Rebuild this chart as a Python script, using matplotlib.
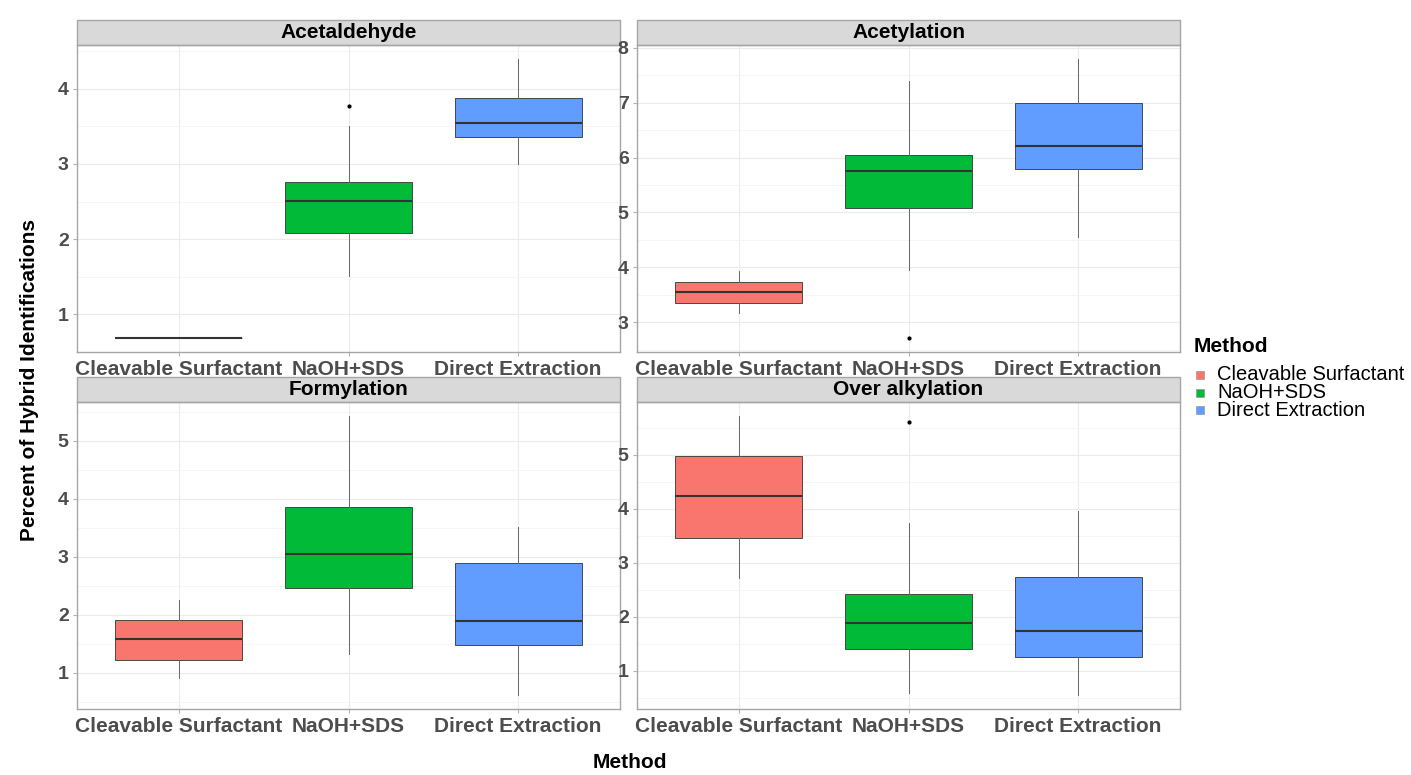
import matplotlib
matplotlib.use("Agg")
import matplotlib.pyplot as plt
from matplotlib.patches import Rectangle
from matplotlib.ticker import MultipleLocator

plt.rcParams['font.family'] = ['Liberation Sans', 'DejaVu Sans']

# data (boxplot stats per panel, one value per method)
methods = ["Cleavable Surfactant", "NaOH+SDS", "Direct Extraction"]
colors = ["#F8766D", "#00BA38", "#619CFF"]
panels = ["Acetaldehyde", "Acetylation", "Formylation", "Over alkylation"]

whisker_low = [[0.68, 1.51, 3.00], [3.16, 3.95, 4.55], [0.91, 1.33, 0.62], [2.71, 0.58, 0.55]]
q1 = [[0.68, 2.08, 3.36], [3.35, 5.08, 5.79], [1.23, 2.46, 1.48], [3.46, 1.41, 1.26]]
median = [[0.68, 2.51, 3.55], [3.55, 5.76, 6.21], [1.58, 3.05, 1.89], [4.23, 1.88, 1.73]]
q3 = [[0.68, 2.76, 3.88], [3.73, 6.05, 7.00], [1.91, 3.86, 2.89], [4.98, 2.42, 2.74]]
whisker_high = [[0.68, 3.51, 4.40], [3.93, 7.40, 7.80], [2.26, 5.43, 3.52], [5.72, 3.73, 3.96]]
outliers = [[[], [3.77], []], [[], [2.71], []], [[], [], []], [[], [5.61], []]]

W, H = 1411, 775
fig = plt.figure(figsize=(W / 100, H / 100), dpi=100)

# panel corners in pixels (left, top, right, bottom)
boxes = [(77, 45, 620, 352), (637, 45, 1180, 352), (77, 402, 620, 709), (637, 402, 1180, 709)]
strip_h = 25

for i, name in enumerate(panels):
    l, t, r, b = boxes[i]
    ax = fig.add_axes([l / W, 1 - b / H, (r - l) / W, (b - t) / H])
    stats = []
    for j in range(3):
        stats.append(dict(med=median[i][j], q1=q1[i][j], q3=q3[i][j],
                          whislo=whisker_low[i][j], whishi=whisker_high[i][j],
                          fliers=outliers[i][j]))
    bp = ax.bxp(stats, positions=[1, 2, 3], widths=0.75, patch_artist=True,
                showcaps=False,
                boxprops=dict(edgecolor="#333333", linewidth=0.6),
                whiskerprops=dict(color="#666666", linewidth=0.7),
                medianprops=dict(color="#333333", linewidth=1.5),
                flierprops=dict(marker="o", markersize=2, markerfacecolor="black",
                                markeredgecolor="black"))
    for patch, c in zip(bp["boxes"], colors):
        patch.set_facecolor(c)

    lo = min(whisker_low[i] + [v for o in outliers[i] for v in o])
    hi = max(whisker_high[i] + [v for o in outliers[i] for v in o])
    pad = 0.05 * (hi - lo)
    ax.set_ylim(lo - pad, hi + pad)
    ax.set_xlim(0.4, 3.6)
    ax.yaxis.set_major_locator(MultipleLocator(1))
    ax.yaxis.set_minor_locator(MultipleLocator(0.5))
    ax.set_xticks([1, 2, 3], methods)

    ax.grid(which="major", color="#EBEBEB", linewidth=0.8)
    ax.grid(which="minor", axis="y", color="#F4F4F4", linewidth=0.6)
    ax.set_axisbelow(True)
    for s in ax.spines.values():
        s.set_color("#A6A6A6")
        s.set_linewidth(1.0)
    ax.tick_params(axis="both", which="major", length=3, color="#B3B3B3", pad=3,
                   labelcolor="#4D4D4D")
    ax.tick_params(axis="both", which="minor", length=0)
    for lab in ax.get_xticklabels():
        lab.set_fontsize(15)
        lab.set_fontweight("bold")
    for lab in ax.get_yticklabels():
        lab.set_fontsize(14)
        lab.set_fontweight("bold")

    # facet strip
    hs = strip_h / (b - t)
    ax.add_patch(Rectangle((0, 1), 1, hs, transform=ax.transAxes, clip_on=False,
                           facecolor="#D9D9D9", edgecolor="#A6A6A6", linewidth=1.0))
    ax.text(0.5, 1 + hs / 2, name, transform=ax.transAxes, ha="center", va="center",
            fontsize=15, fontweight="bold", color="black")

fig.text(30 / W, 1 - 380 / H, "Percent of Hybrid Identifications", rotation=90,
         ha="center", va="center", fontsize=15, fontweight="bold")
fig.text(630 / W, 1 - 763 / H, "Method", ha="center", va="center",
         fontsize=15, fontweight="bold")

# legend
fig.text(1194 / W, 1 - 347 / H, "Method", ha="left", va="center",
         fontsize=15, fontweight="bold")
for k, (m, c) in enumerate(zip(methods, colors)):
    yc = 375 + k * 17.5
    fig.add_artist(Rectangle(((1200 - 4) / W, 1 - (yc + 4) / H), 8 / W, 8 / H,
                             transform=fig.transFigure, facecolor=c,
                             edgecolor="#999999", linewidth=0.5))
    fig.text(1217 / W, 1 - yc / H, m, ha="left", va="center", fontsize=14.5)

fig.savefig("out.png", dpi=100)
